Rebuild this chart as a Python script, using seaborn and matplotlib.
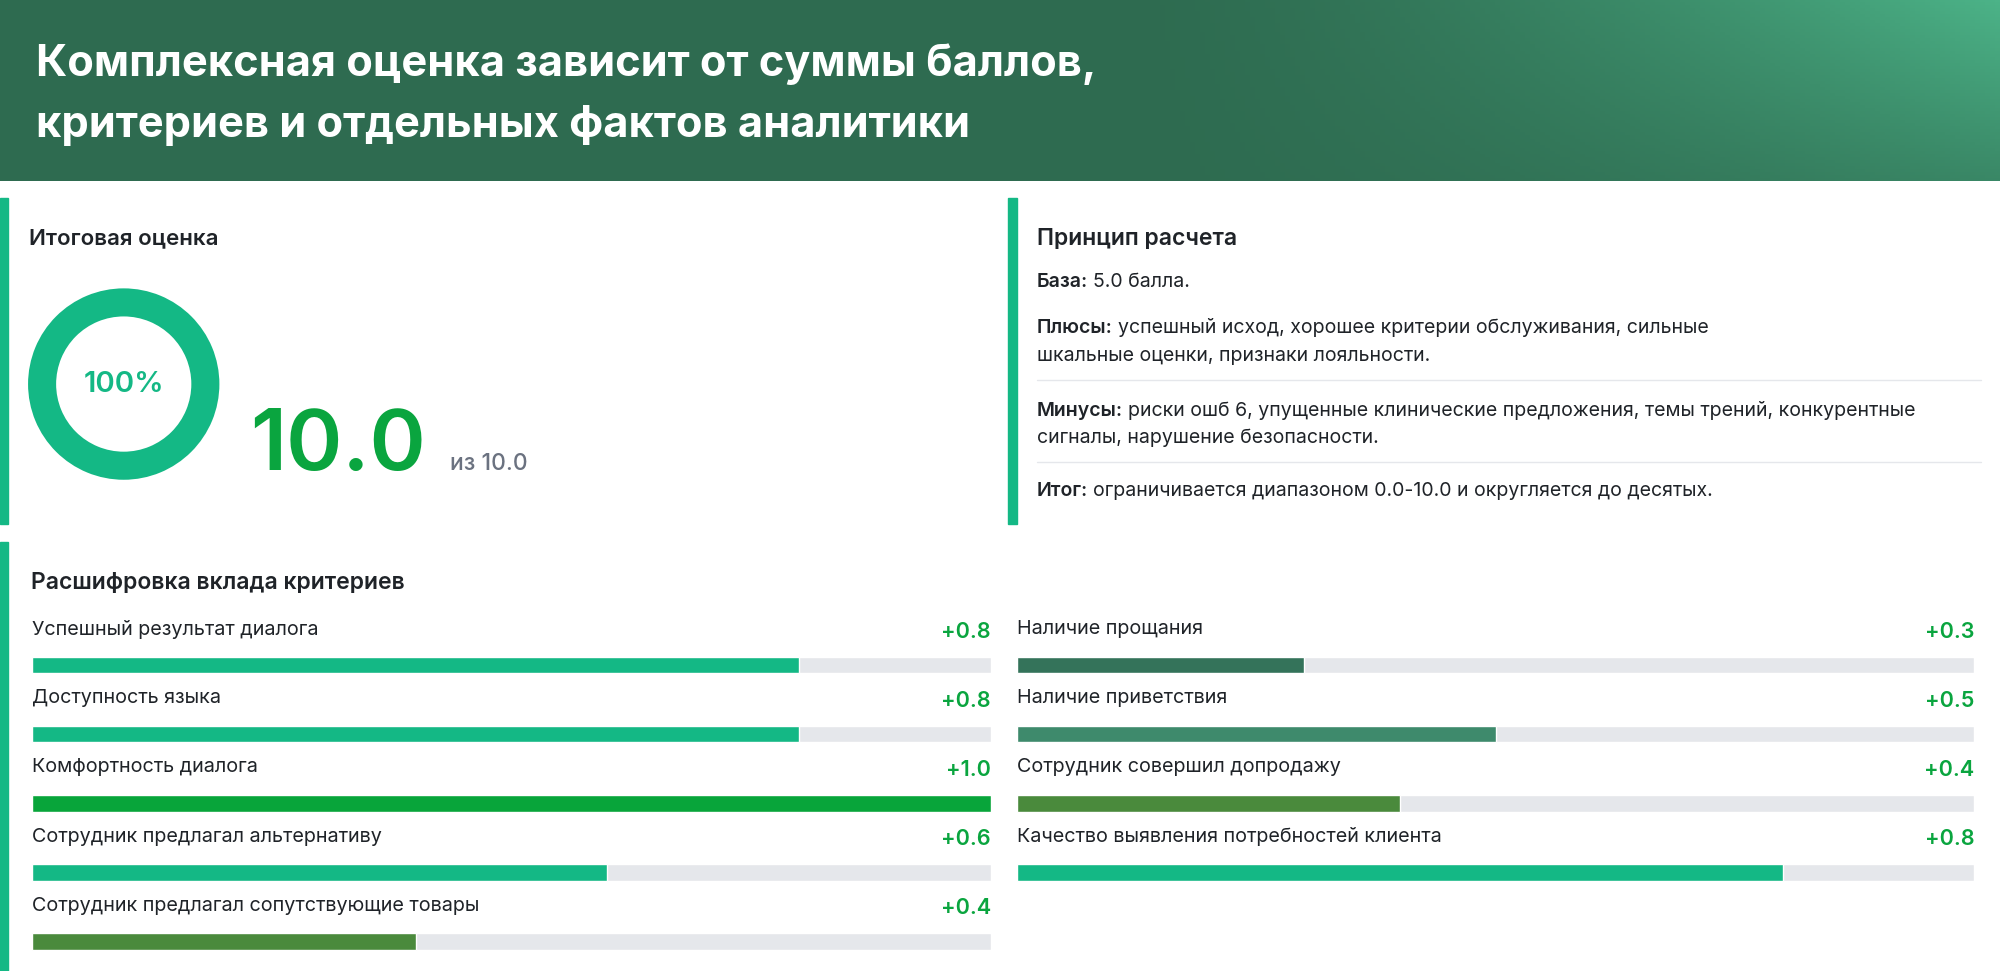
import numpy as np
import pandas as pd
import matplotlib
matplotlib.use("Agg")
import matplotlib.pyplot as plt
import seaborn as sns
from matplotlib.patches import Rectangle, Circle, Wedge

sns.set_theme(style="white")
plt.rcParams['font.family'] = ['Inter', 'DejaVu Sans']

title_lines = ["Комплексная оценка зависит от суммы баллов,", "критериев и отдельных фактов аналитики"]
score = 10.0
score_max = 10.0
pct_label = "100%"
left_labels = ["Успешный результат диалога", "Доступность языка", "Комфортность диалога",
               "Сотрудник предлагал альтернативу", "Сотрудник предлагал сопутствующие товары"]
left_values = [0.8, 0.8, 1.0, 0.6, 0.4]
left_colors = ["#14b885", "#14b885", "#08a53a", "#14b885", "#4a8a3c"]
right_labels = ["Наличие прощания", "Наличие приветствия", "Сотрудник совершил допродажу",
                "Качество выявления потребностей клиента"]
right_values = [0.3, 0.5, 0.4, 0.8]
right_colors = ["#34735a", "#3e8a6c", "#4a8a3c", "#14b885"]
bar_max = 1.0

W, H = 1568, 761
fig = plt.figure(figsize=(20, 9.71), dpi=100)
fig.patch.set_facecolor("white")
ov = fig.add_axes([0, 0, 1, 1])
ov.set_xlim(0, W); ov.set_ylim(H, 0); ov.axis("off")
S = 0.918  # displayed px -> pt

# header gradient
nx, ny = 400, 60
gx = np.linspace(0, 1, nx)[None, :]
gy = np.linspace(0, 1, ny)[:, None]
t = np.clip((gx - 0.55) / 0.45, 0, 1) ** 1.6 * (1 - 0.6 * gy)
c0 = np.array([0x2e, 0x6b, 0x50]) / 255
c1 = np.array([0x4c, 0xb3, 0x88]) / 255
img = c0[None, None, :] * (1 - t[..., None]) + c1[None, None, :] * t[..., None]
ov.imshow(img, extent=(0, W, 142, 0), aspect="auto", zorder=0)
ov.set_xlim(0, W); ov.set_ylim(H, 0)
for i, ln in enumerate(title_lines):
    ov.text(28, 50 + i * 48, ln, color="white", fontsize=34 * S, fontweight="bold", va="center", ha="left")

accent = "#14b885"
ov.add_patch(Rectangle((0, 155), 6, 256, color=accent))
ov.add_patch(Rectangle((790, 155), 7, 256, color=accent))
ov.add_patch(Rectangle((0, 425), 6, 336, color=accent))

# final score
ov.text(23, 187, "Итоговая оценка", fontsize=17.5 * S, fontweight="semibold", color="#1f2328", va="center")
ov.add_patch(Wedge((97, 301), 75, 90, 90 + 360 * score / score_max, width=22, color=accent, lw=0))
ov.text(97, 301, pct_label, fontsize=23 * S, color=accent, ha="center", va="center", fontweight="semibold")
ov.text(196, 368, f"{score:.1f}", fontsize=67 * S, color="#0aa53f", fontweight="semibold", va="baseline")
ov.text(353, 368, f"из {score_max:.1f}", fontsize=18 * S, color="#6b7280", va="baseline", fontweight="medium")

# principle
ov.text(813, 187, "Принцип расчета", fontsize=18 * S, fontweight="semibold", color="#1f2328", va="center")
fs = 15.3 * S
def rich(x, y, bold, rest):
    t1 = ov.text(x, y, bold, fontsize=fs, fontweight="semibold", color="#1f2328", va="center")
    fig.canvas.draw()
    bb = t1.get_window_extent()
    x2 = ov.transData.inverted().transform((bb.x1, 0))[0]
    ov.text(x2 + 4, y, rest, fontsize=fs, color="#1f2328", va="center")
rich(813, 221, "База:", "5.0 балла.")
rich(813, 257, "Плюсы:", "успешный исход, хорошее критерии обслуживания, сильные")
ov.text(813, 279, "шкальные оценки, признаки лояльности.", fontsize=fs, color="#1f2328", va="center")
ov.plot([813, 1553], [298, 298], color="#e5e7eb", lw=1)
rich(813, 322, "Минусы:", "риски ошб 6, упущенные клинические предложения, темы трений, конкурентные")
ov.text(813, 343, "сигналы, нарушение безопасности.", fontsize=fs, color="#1f2328", va="center")
ov.plot([813, 1553], [362, 362], color="#e5e7eb", lw=1)
rich(813, 385, "Итог:", "ограничивается диапазоном 0.0-10.0 и округляется до десятых.")

ov.text(24, 457, "Расшифровка вклада критериев", fontsize=18 * S, fontweight="semibold", color="#1f2328", va="center")

def column(labels, values, colors, x0, x1):
    n = len(labels)
    top, step = 494, 54.2
    ax = fig.add_axes([x0 / W, 1 - (top + n * step) / H, (x1 - x0) / W, n * step / H])
    df = pd.DataFrame({"label": labels, "value": values, "full": [bar_max] * n})
    sns.barplot(data=df, y="label", x="full", color="#e5e7eb", saturation=1, width=0.24, ax=ax, orient="h")
    sns.barplot(data=df, y="label", x="value", hue="label", palette=colors, legend=False,
                saturation=1, width=0.24, ax=ax, orient="h")
    ax.set_xlim(0, bar_max); ax.set_ylim(n - 0.5, -0.5)
    ax.axis("off")
    for i, (lb, v) in enumerate(zip(labels, values)):
        yc = top + step * (i + 0.5)
        ov.text(x0, yc - 28, lb, fontsize=15.5 * S, color="#1f2328", va="center")
        ov.text(x1, yc - 26, f"+{v:.1f}", fontsize=17 * S, color="#0aa53f", fontweight="semibold",
                va="center", ha="right")

column(left_labels, left_values, left_colors, 25, 777)
column(right_labels, right_values, right_colors, 797, 1548)

fig.savefig("out.png", dpi=100, facecolor="white")
